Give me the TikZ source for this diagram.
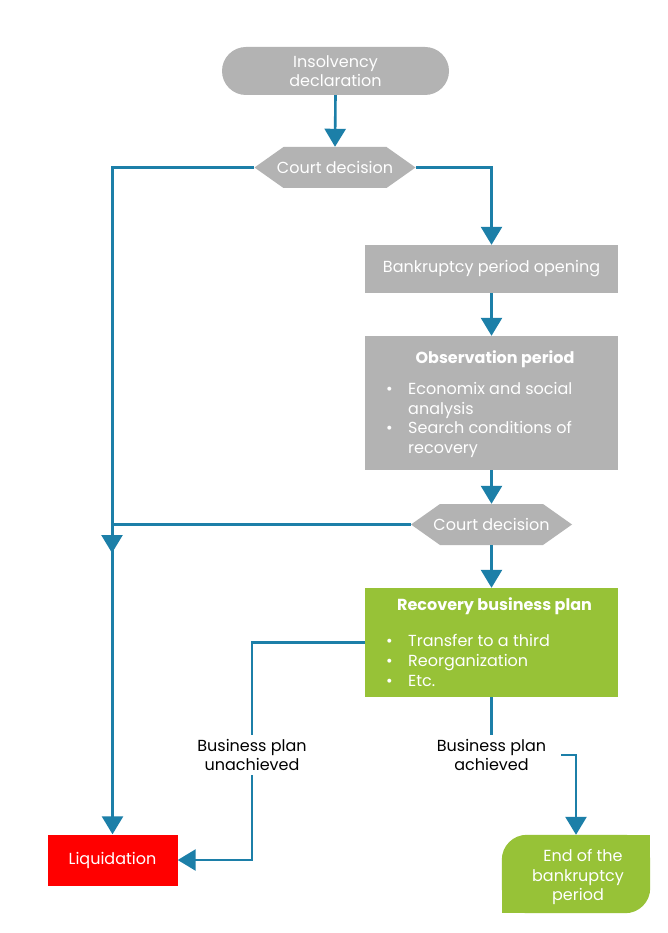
\documentclass[tikz,border=0pt]{standalone}
\usepackage{fontspec}
\setmainfont{Poppins}
\usetikzlibrary{arrows.meta,calc}
\definecolor{flowblue}{HTML}{1C7FA8}
\definecolor{boxgray}{HTML}{B3B3B3}
\definecolor{boxgreen}{HTML}{97C237}
\definecolor{liqred}{HTML}{FF0000}
\pgfdeclarelayer{bg}
\pgfsetlayers{bg,main}
\newcommand\bulitem{\makebox[22pt][l]{\textbullet}}
\begin{document}
\begin{tikzpicture}[x=1pt,y=-1pt,
  every node/.style={font=\fontsize{16}{19.5}\selectfont, inner sep=0pt},
  graybox/.style={fill=boxgray, minimum width=253pt, text=white},
  greenbox/.style={fill=boxgreen, minimum width=253pt, text=white},
  boxtitle/.style={text=white, font=\fontsize{16}{19.5}\selectfont\bfseries},
  bulline/.style={text=white, anchor=base west},
  hexa/.style={minimum width=161pt, minimum height=41pt, text=white,
    path picture={\fill[boxgray] (path picture bounding box.west)
      -- ([xshift=29pt]path picture bounding box.north west)
      -- ([xshift=-29pt]path picture bounding box.north east)
      -- (path picture bounding box.east)
      -- ([xshift=-29pt]path picture bounding box.south east)
      -- ([xshift=29pt]path picture bounding box.south west) -- cycle;}},
  flow/.style={draw=flowblue, line width=2.6pt, -{Triangle[width=21pt,length=18pt]}},
  edgelabel/.style={fill=white, text=black, align=center, inner xsep=15pt, inner ysep=4pt}
]
\useasboundingbox (0,0) rectangle (667,933);
\begin{pgfonlayer}{bg}
  \fill[white] (0,0) rectangle (667,933);
\end{pgfonlayer}

% nodes
\node[fill=boxgray, rounded corners=24pt, minimum width=227pt, minimum height=48pt,
      text=white, align=center] (ins) at (335.5,71) {Insolvency\\declaration};
\node[hexa] (cd1) at (335,167.5) {Court decision};
\node[graybox, minimum height=48pt] (bko) at (491.5,269) {Bankruptcy period opening};
\node[graybox, minimum height=134pt] (obs) at (491.5,403) {};
\node[boxtitle] (obst) at (495,359) {Observation period};
\node[bulline] (obs1) at (386,394.5) {\bulitem Economix and social};
\node[bulline] (obs2) at (408,414) {analysis};
\node[bulline] (obs3) at (386,433.5) {\bulitem Search conditions of};
\node[bulline] (obs4) at (408,453) {recovery};
\node[hexa] (cd2) at (491.5,524.5) {Court decision};
\node[greenbox, minimum height=109pt] (rec) at (491.5,642.5) {};
\node[boxtitle] (rect) at (494.5,606) {Recovery business plan};
\node[bulline] (rec1) at (386,646.5) {\bulitem Transfer to a third};
\node[bulline] (rec2) at (386,666.5) {\bulitem Reorganization};
\node[bulline] (rec3) at (386,686.5) {\bulitem Etc.};
\node[fill=liqred, minimum width=130pt, minimum height=51pt, text=white] (liq) at (112.5,860) {Liquidation};
\node[minimum width=148pt, minimum height=78pt] (endb) at (576,874) {};
\node[text=white, align=center] (endt) at (578,877) {\hspace*{10pt}End of the\\bankruptcy\\period};
\begin{pgfonlayer}{bg}
  \fill[boxgreen, rounded corners=25pt] (endb.north west) rectangle (endb.south east);
  \fill[boxgreen] (endb.north east) rectangle ([xshift=-30pt,yshift=-30pt]endb.north east);
  \fill[boxgreen] (endb.south west) rectangle ([xshift=30pt,yshift=30pt]endb.south west);
\end{pgfonlayer}

% helper coordinates
\coordinate (j2) at (112,553);
\coordinate (c1) at (252,700);
\coordinate (c2) at (576,755);

% connectors
\draw[flow] (ins.south) -- (cd1.north);
\draw[flow] (cd1.east) -| (bko.north);
\draw[flow] (cd1.west) -| (liq.north);
\draw[flow] (bko.south) -- (obs.north);
\draw[flow] (obs.south) -- (cd2.north);
\draw[flow] (cd2.west) -| (j2);
\draw[flow] (cd2.south) -- (rec.north);
\draw[flow] (rec.west) -| (c1) |- (liq.east);
\draw[flow] (rec.south) |- (c2) -- (endb.north);

% connector labels
\node[edgelabel] (lu) at (252,755) {Business plan\\unachieved};
\node[edgelabel] (la) at (491.5,755) {Business plan\\achieved};
\end{tikzpicture}
\end{document}
